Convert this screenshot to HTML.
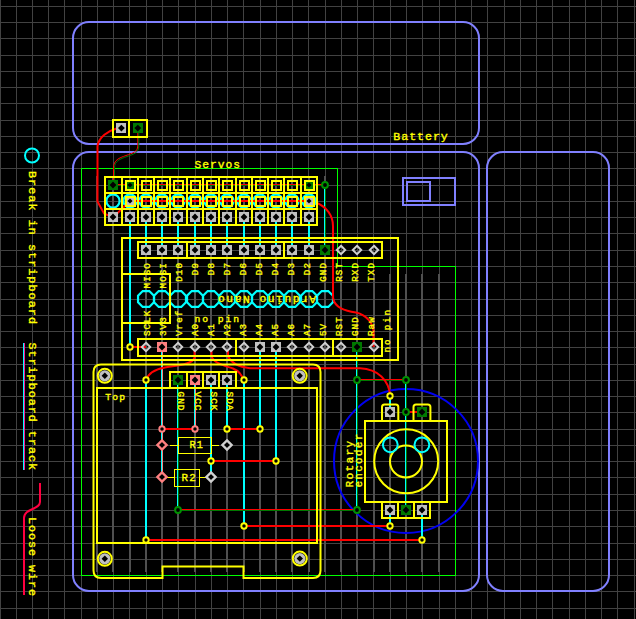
<!DOCTYPE html>
<html><head><meta charset="utf-8"><style>
html,body{margin:0;padding:0;background:#000;width:636px;height:619px;overflow:hidden}
svg{display:block}
text{font-family:"Liberation Mono",monospace;stroke:#ffff00;stroke-width:0.35px}
</style></head><body>
<svg width="636" height="619" viewBox="0 0 636 619" shape-rendering="crispEdges">
<rect width="636" height="619" fill="#000"/>
<rect x="0" y="0" width="1" height="619" fill="#424242"/>
<rect x="16" y="0" width="1" height="619" fill="#424242"/>
<rect x="32" y="0" width="1" height="619" fill="#424242"/>
<rect x="48" y="0" width="1" height="619" fill="#424242"/>
<rect x="64" y="0" width="1" height="619" fill="#424242"/>
<rect x="81" y="0" width="1" height="619" fill="#424242"/>
<rect x="97" y="0" width="1" height="619" fill="#424242"/>
<rect x="113" y="0" width="1" height="619" fill="#424242"/>
<rect x="129" y="0" width="1" height="619" fill="#424242"/>
<rect x="146" y="0" width="1" height="619" fill="#424242"/>
<rect x="162" y="0" width="1" height="619" fill="#424242"/>
<rect x="178" y="0" width="1" height="619" fill="#424242"/>
<rect x="195" y="0" width="1" height="619" fill="#424242"/>
<rect x="211" y="0" width="1" height="619" fill="#424242"/>
<rect x="227" y="0" width="1" height="619" fill="#424242"/>
<rect x="243" y="0" width="1" height="619" fill="#424242"/>
<rect x="260" y="0" width="1" height="619" fill="#424242"/>
<rect x="276" y="0" width="1" height="619" fill="#424242"/>
<rect x="292" y="0" width="1" height="619" fill="#424242"/>
<rect x="308" y="0" width="1" height="619" fill="#424242"/>
<rect x="325" y="0" width="1" height="619" fill="#424242"/>
<rect x="341" y="0" width="1" height="619" fill="#424242"/>
<rect x="357" y="0" width="1" height="619" fill="#424242"/>
<rect x="373" y="0" width="1" height="619" fill="#424242"/>
<rect x="390" y="0" width="1" height="619" fill="#424242"/>
<rect x="406" y="0" width="1" height="619" fill="#424242"/>
<rect x="422" y="0" width="1" height="619" fill="#424242"/>
<rect x="439" y="0" width="1" height="619" fill="#424242"/>
<rect x="455" y="0" width="1" height="619" fill="#424242"/>
<rect x="471" y="0" width="1" height="619" fill="#424242"/>
<rect x="487" y="0" width="1" height="619" fill="#424242"/>
<rect x="504" y="0" width="1" height="619" fill="#424242"/>
<rect x="520" y="0" width="1" height="619" fill="#424242"/>
<rect x="536" y="0" width="1" height="619" fill="#424242"/>
<rect x="552" y="0" width="1" height="619" fill="#424242"/>
<rect x="569" y="0" width="1" height="619" fill="#424242"/>
<rect x="585" y="0" width="1" height="619" fill="#424242"/>
<rect x="601" y="0" width="1" height="619" fill="#424242"/>
<rect x="617" y="0" width="1" height="619" fill="#424242"/>
<rect x="634" y="0" width="1" height="619" fill="#424242"/>
<rect x="0" y="6" width="636" height="1" fill="#424242"/>
<rect x="0" y="22" width="636" height="1" fill="#424242"/>
<rect x="0" y="38" width="636" height="1" fill="#424242"/>
<rect x="0" y="55" width="636" height="1" fill="#424242"/>
<rect x="0" y="71" width="636" height="1" fill="#424242"/>
<rect x="0" y="87" width="636" height="1" fill="#424242"/>
<rect x="0" y="103" width="636" height="1" fill="#424242"/>
<rect x="0" y="120" width="636" height="1" fill="#424242"/>
<rect x="0" y="136" width="636" height="1" fill="#424242"/>
<rect x="0" y="152" width="636" height="1" fill="#424242"/>
<rect x="0" y="168" width="636" height="1" fill="#424242"/>
<rect x="0" y="185" width="636" height="1" fill="#424242"/>
<rect x="0" y="201" width="636" height="1" fill="#424242"/>
<rect x="0" y="217" width="636" height="1" fill="#424242"/>
<rect x="0" y="233" width="636" height="1" fill="#424242"/>
<rect x="0" y="250" width="636" height="1" fill="#424242"/>
<rect x="0" y="266" width="636" height="1" fill="#424242"/>
<rect x="0" y="282" width="636" height="1" fill="#424242"/>
<rect x="0" y="299" width="636" height="1" fill="#424242"/>
<rect x="0" y="315" width="636" height="1" fill="#424242"/>
<rect x="0" y="331" width="636" height="1" fill="#424242"/>
<rect x="0" y="347" width="636" height="1" fill="#424242"/>
<rect x="0" y="364" width="636" height="1" fill="#424242"/>
<rect x="0" y="380" width="636" height="1" fill="#424242"/>
<rect x="0" y="396" width="636" height="1" fill="#424242"/>
<rect x="0" y="412" width="636" height="1" fill="#424242"/>
<rect x="0" y="429" width="636" height="1" fill="#424242"/>
<rect x="0" y="445" width="636" height="1" fill="#424242"/>
<rect x="0" y="461" width="636" height="1" fill="#424242"/>
<rect x="0" y="477" width="636" height="1" fill="#424242"/>
<rect x="0" y="494" width="636" height="1" fill="#424242"/>
<rect x="0" y="510" width="636" height="1" fill="#424242"/>
<rect x="0" y="526" width="636" height="1" fill="#424242"/>
<rect x="0" y="543" width="636" height="1" fill="#424242"/>
<rect x="0" y="559" width="636" height="1" fill="#424242"/>
<rect x="0" y="575" width="636" height="1" fill="#424242"/>
<rect x="0" y="591" width="636" height="1" fill="#424242"/>
<rect x="0" y="608" width="636" height="1" fill="#424242"/>
<rect x="96" y="176" width="2" height="396" fill="#505050"/>
<rect x="112" y="176" width="2" height="396" fill="#505050"/>
<rect x="129" y="176" width="2" height="396" fill="#505050"/>
<rect x="145" y="176" width="2" height="396" fill="#505050"/>
<rect x="161" y="176" width="2" height="396" fill="#505050"/>
<rect x="177" y="176" width="2" height="396" fill="#505050"/>
<rect x="194" y="176" width="2" height="396" fill="#505050"/>
<rect x="210" y="176" width="2" height="396" fill="#505050"/>
<rect x="226" y="176" width="2" height="396" fill="#505050"/>
<rect x="243" y="176" width="2" height="396" fill="#505050"/>
<rect x="259" y="176" width="2" height="396" fill="#505050"/>
<rect x="275" y="176" width="2" height="396" fill="#505050"/>
<rect x="291" y="176" width="2" height="396" fill="#505050"/>
<rect x="308" y="176" width="2" height="396" fill="#505050"/>
<rect x="324" y="176" width="2" height="396" fill="#505050"/>
<rect x="340" y="274" width="2" height="298" fill="#505050"/>
<rect x="356" y="274" width="2" height="298" fill="#505050"/>
<rect x="373" y="274" width="2" height="298" fill="#505050"/>
<rect x="389" y="274" width="2" height="298" fill="#505050"/>
<rect x="405" y="274" width="2" height="298" fill="#505050"/>
<rect x="421" y="274" width="2" height="298" fill="#505050"/>
<rect x="438" y="274" width="2" height="298" fill="#505050"/>
<path d="M81.5,168.5 H337.5 V266.5 H455.5 V575.5 H81.5 Z" fill="none" stroke="#00ff00" stroke-width="1"/>
<rect x="73" y="22" width="406" height="122" rx="16" fill="none" stroke="#8080ff" stroke-width="2" shape-rendering="auto"/>
<rect x="73" y="152" width="406" height="439" rx="16" fill="none" stroke="#8080ff" stroke-width="2" shape-rendering="auto"/>
<rect x="487" y="152" width="122" height="439" rx="16" fill="none" stroke="#8080ff" stroke-width="2" shape-rendering="auto"/>
<rect x="403" y="178" width="52" height="27" fill="none" stroke="#8080ff" stroke-width="2"/>
<rect x="407" y="182" width="23" height="19" fill="none" stroke="#8080ff" stroke-width="2"/>
<circle cx="32" cy="155.5" r="7" fill="none" stroke="#00ffff" stroke-width="2" shape-rendering="auto"/>
<rect x="23" y="343" width="1" height="127" fill="#00ffff"/>
<rect x="24" y="343" width="1" height="127" fill="#ff1493"/>
<path d="M40,483 V502 C40,510 24,508 24,518 V595" fill="none" stroke="#ff0040" stroke-width="2" shape-rendering="auto"/>
<text x="29" y="171" font-size="10.6" letter-spacing="0.9" textLength="154" lengthAdjust="spacingAndGlyphs" text-anchor="start" fill="#ffff00" transform="rotate(90 29 171)">Break in stripboard</text>
<text x="29" y="342.5" font-size="10.6" letter-spacing="0.9" textLength="128.5" lengthAdjust="spacingAndGlyphs" text-anchor="start" fill="#ffff00" transform="rotate(90 29 342.5)">Stripboard track</text>
<text x="29" y="517" font-size="10.6" letter-spacing="0.9" textLength="80" lengthAdjust="spacingAndGlyphs" text-anchor="start" fill="#ffff00" transform="rotate(90 29 517)">Loose wire</text>
<text x="393.3" y="139.5" font-size="10.6" letter-spacing="0.9" textLength="55.5" lengthAdjust="spacingAndGlyphs" text-anchor="start" fill="#ffff00">Battery</text>
<text x="194.5" y="168" font-size="10.6" letter-spacing="0.9" textLength="46.5" lengthAdjust="spacingAndGlyphs" text-anchor="start" fill="#ffff00">Servos</text>
<circle cx="406" cy="461" r="72" fill="none" stroke="#0000f0" stroke-width="2" shape-rendering="auto"/>
<circle cx="113" cy="201" r="6.6" fill="none" stroke="#00ffff" stroke-width="2.2" shape-rendering="auto"/>
<circle cx="130" cy="201" r="6.6" fill="none" stroke="#00ffff" stroke-width="2.2" shape-rendering="auto"/>
<circle cx="146" cy="201" r="6.6" fill="none" stroke="#00ffff" stroke-width="2.2" shape-rendering="auto"/>
<circle cx="162" cy="201" r="6.6" fill="none" stroke="#00ffff" stroke-width="2.2" shape-rendering="auto"/>
<circle cx="178" cy="201" r="6.6" fill="none" stroke="#00ffff" stroke-width="2.2" shape-rendering="auto"/>
<circle cx="195" cy="201" r="6.6" fill="none" stroke="#00ffff" stroke-width="2.2" shape-rendering="auto"/>
<circle cx="211" cy="201" r="6.6" fill="none" stroke="#00ffff" stroke-width="2.2" shape-rendering="auto"/>
<circle cx="227" cy="201" r="6.6" fill="none" stroke="#00ffff" stroke-width="2.2" shape-rendering="auto"/>
<circle cx="244" cy="201" r="6.6" fill="none" stroke="#00ffff" stroke-width="2.2" shape-rendering="auto"/>
<circle cx="260" cy="201" r="6.6" fill="none" stroke="#00ffff" stroke-width="2.2" shape-rendering="auto"/>
<circle cx="276" cy="201" r="6.6" fill="none" stroke="#00ffff" stroke-width="2.2" shape-rendering="auto"/>
<circle cx="292" cy="201" r="6.6" fill="none" stroke="#00ffff" stroke-width="2.2" shape-rendering="auto"/>
<circle cx="309" cy="201" r="6.6" fill="none" stroke="#00ffff" stroke-width="2.2" shape-rendering="auto"/>
<polygon points="153.95,302.29 149.29,306.95 142.71,306.95 138.05,302.29 138.05,295.71 142.71,291.05 149.29,291.05 153.95,295.71" fill="none" stroke="#00ffff" stroke-width="2.2" shape-rendering="auto"/>
<polygon points="169.95,302.29 165.29,306.95 158.71,306.95 154.05,302.29 154.05,295.71 158.71,291.05 165.29,291.05 169.95,295.71" fill="none" stroke="#00ffff" stroke-width="2.2" shape-rendering="auto"/>
<polygon points="185.95,302.29 181.29,306.95 174.71,306.95 170.05,302.29 170.05,295.71 174.71,291.05 181.29,291.05 185.95,295.71" fill="none" stroke="#00ffff" stroke-width="2.2" shape-rendering="auto"/>
<polygon points="202.95,302.29 198.29,306.95 191.71,306.95 187.05,302.29 187.05,295.71 191.71,291.05 198.29,291.05 202.95,295.71" fill="none" stroke="#00ffff" stroke-width="2.2" shape-rendering="auto"/>
<polygon points="218.95,302.29 214.29,306.95 207.71,306.95 203.05,302.29 203.05,295.71 207.71,291.05 214.29,291.05 218.95,295.71" fill="none" stroke="#00ffff" stroke-width="2.2" shape-rendering="auto"/>
<polygon points="234.95,302.29 230.29,306.95 223.71,306.95 219.05,302.29 219.05,295.71 223.71,291.05 230.29,291.05 234.95,295.71" fill="none" stroke="#00ffff" stroke-width="2.2" shape-rendering="auto"/>
<polygon points="251.95,302.29 247.29,306.95 240.71,306.95 236.05,302.29 236.05,295.71 240.71,291.05 247.29,291.05 251.95,295.71" fill="none" stroke="#00ffff" stroke-width="2.2" shape-rendering="auto"/>
<polygon points="267.95,302.29 263.29,306.95 256.71,306.95 252.05,302.29 252.05,295.71 256.71,291.05 263.29,291.05 267.95,295.71" fill="none" stroke="#00ffff" stroke-width="2.2" shape-rendering="auto"/>
<polygon points="283.95,302.29 279.29,306.95 272.71,306.95 268.05,302.29 268.05,295.71 272.71,291.05 279.29,291.05 283.95,295.71" fill="none" stroke="#00ffff" stroke-width="2.2" shape-rendering="auto"/>
<polygon points="299.95,302.29 295.29,306.95 288.71,306.95 284.05,302.29 284.05,295.71 288.71,291.05 295.29,291.05 299.95,295.71" fill="none" stroke="#00ffff" stroke-width="2.2" shape-rendering="auto"/>
<polygon points="316.95,302.29 312.29,306.95 305.71,306.95 301.05,302.29 301.05,295.71 305.71,291.05 312.29,291.05 316.95,295.71" fill="none" stroke="#00ffff" stroke-width="2.2" shape-rendering="auto"/>
<polygon points="332.95,302.29 328.29,306.95 321.71,306.95 317.05,302.29 317.05,295.71 321.71,291.05 328.29,291.05 332.95,295.71" fill="none" stroke="#00ffff" stroke-width="2.2" shape-rendering="auto"/>
<rect x="129" y="217" width="2" height="130" fill="#00ffff"/>
<rect x="145" y="217" width="2" height="33" fill="#00ffff"/>
<rect x="161" y="217" width="2" height="33" fill="#00ffff"/>
<rect x="177" y="217" width="2" height="33" fill="#00ffff"/>
<rect x="194" y="217" width="2" height="33" fill="#00ffff"/>
<rect x="210" y="217" width="2" height="33" fill="#00ffff"/>
<rect x="226" y="217" width="2" height="33" fill="#00ffff"/>
<rect x="243" y="217" width="2" height="33" fill="#00ffff"/>
<rect x="259" y="217" width="2" height="33" fill="#00ffff"/>
<rect x="275" y="217" width="2" height="33" fill="#00ffff"/>
<rect x="291" y="217" width="2" height="33" fill="#00ffff"/>
<rect x="308" y="217" width="2" height="33" fill="#00ffff"/>
<rect x="324" y="185" width="1" height="65" fill="#00ffff"/>
<rect x="325" y="185" width="1" height="65" fill="#007800"/>
<rect x="145" y="380" width="2" height="160" fill="#00ffff"/>
<rect x="161" y="347" width="1" height="130" fill="#00ffff"/>
<rect x="162" y="347" width="1" height="130" fill="#ff8080"/>
<rect x="177" y="380" width="1" height="130" fill="#00ffff"/>
<rect x="178" y="380" width="1" height="130" fill="#007800"/>
<rect x="194" y="380" width="1" height="49" fill="#00ffff"/>
<rect x="195" y="380" width="1" height="49" fill="#ff8080"/>
<rect x="210" y="380" width="2" height="97" fill="#00ffff"/>
<rect x="226" y="380" width="2" height="49" fill="#00ffff"/>
<rect x="243" y="380" width="2" height="146" fill="#00ffff"/>
<rect x="259" y="347" width="2" height="82" fill="#00ffff"/>
<rect x="275" y="347" width="2" height="114" fill="#00ffff"/>
<rect x="356" y="347" width="1" height="163" fill="#00ffff"/>
<rect x="357" y="347" width="1" height="163" fill="#007800"/>
<rect x="405" y="380" width="1" height="130" fill="#00ffff"/>
<rect x="406" y="380" width="1" height="130" fill="#007800"/>
<rect x="389" y="396" width="2" height="16" fill="#00ffff"/>
<rect x="389" y="510" width="2" height="16" fill="#00ffff"/>
<rect x="421" y="510" width="2" height="30" fill="#00ffff"/>
<rect x="113" y="184" width="212" height="1" fill="#ff0000"/>
<rect x="113" y="185" width="212" height="1" fill="#007800"/>
<rect x="130" y="200" width="179" height="2" fill="#ff0000"/>
<rect x="130" y="346" width="16" height="2" fill="#ff0000"/>
<rect x="162" y="428" width="33" height="2" fill="#ff0000"/>
<rect x="227" y="428" width="33" height="2" fill="#ff0000"/>
<rect x="211" y="460" width="65" height="2" fill="#ff0000"/>
<rect x="178" y="509" width="179" height="1" fill="#ff0000"/>
<rect x="178" y="510" width="179" height="1" fill="#007800"/>
<rect x="244" y="525" width="146" height="2" fill="#ff0000"/>
<rect x="146" y="539" width="276" height="2" fill="#ff0000"/>
<rect x="357" y="379" width="49" height="1" fill="#ff0000"/>
<rect x="357" y="380" width="49" height="1" fill="#007800"/>
<rect x="406" y="411" width="16" height="2" fill="#ff0000"/>
<path d="M116.5,128.5 C108,131 99,137 97.5,146 V201.5 L104,213.5 L113,217.5" fill="none" stroke="#ff0000" stroke-width="2" shape-rendering="auto"/>
<path d="M113,217.5 L129.5,201.5" fill="none" stroke="#ff0000" stroke-width="2" shape-rendering="auto"/>
<path d="M316,202.5 C327,207 333,216 333,226 V298 C335,308 345,311 356,312.5 C367,315 373.5,324 373.5,332 V347" fill="none" stroke="#ff0000" stroke-width="2" shape-rendering="auto"/>
<path d="M137.8,132 V146 C137.5,152 133,153 126,155.5 C119,158 113.5,160 113.5,168 V185" fill="none" stroke="#ff0000" stroke-width="1" shape-rendering="auto"/>
<path d="M138.8,132 V146 C138.5,153 134,154 127,156.5 C120,159 114.5,161 114.5,168 V185" fill="none" stroke="#007800" stroke-width="1" shape-rendering="auto"/>
<path d="M194.5,351 V358 C192,364 180,365 165,367.5 C154,369.5 148,374 146.2,380" fill="none" stroke="#ff0000" stroke-width="2" shape-rendering="auto"/>
<path d="M211.5,351 V356 C214,364 226,366 233,368.5 C239,371 242,375 243.2,380" fill="none" stroke="#ff0000" stroke-width="2" shape-rendering="auto"/>
<path d="M228,351 V356 C231,363 240,367 250,368.2 H360 C378,369 389,380 390.2,396" fill="none" stroke="#ff0000" stroke-width="2" shape-rendering="auto"/>
<rect x="112.6" y="120.2" width="34" height="16.3" fill="none" stroke="#ffff00" stroke-width="2"/>
<line x1="128.7" y1="120.2" x2="128.7" y2="136.5" stroke="#ffff00" stroke-width="2"/>
<rect x="105" y="176.5" width="212" height="48.5" fill="none" stroke="#ffff00" stroke-width="2"/>
<line x1="121.5" y1="176.5" x2="121.5" y2="225" stroke="#ffff00" stroke-width="2"/>
<line x1="138" y1="176.5" x2="138" y2="225" stroke="#ffff00" stroke-width="2"/>
<line x1="154" y1="176.5" x2="154" y2="225" stroke="#ffff00" stroke-width="2"/>
<line x1="170" y1="176.5" x2="170" y2="225" stroke="#ffff00" stroke-width="2"/>
<line x1="186.5" y1="176.5" x2="186.5" y2="225" stroke="#ffff00" stroke-width="2"/>
<line x1="203" y1="176.5" x2="203" y2="225" stroke="#ffff00" stroke-width="2"/>
<line x1="219" y1="176.5" x2="219" y2="225" stroke="#ffff00" stroke-width="2"/>
<line x1="235.5" y1="176.5" x2="235.5" y2="225" stroke="#ffff00" stroke-width="2"/>
<line x1="252" y1="176.5" x2="252" y2="225" stroke="#ffff00" stroke-width="2"/>
<line x1="268" y1="176.5" x2="268" y2="225" stroke="#ffff00" stroke-width="2"/>
<line x1="284" y1="176.5" x2="284" y2="225" stroke="#ffff00" stroke-width="2"/>
<line x1="300.5" y1="176.5" x2="300.5" y2="225" stroke="#ffff00" stroke-width="2"/>
<line x1="317" y1="176.5" x2="317" y2="225" stroke="#ffff00" stroke-width="2"/>
<line x1="105" y1="193" x2="317" y2="193" stroke="#ffff00" stroke-width="2"/>
<line x1="105" y1="209" x2="317" y2="209" stroke="#ffff00" stroke-width="2"/>
<rect x="125.5" y="180.5" width="9" height="9" fill="none" stroke="#ffff00" stroke-width="2"/>
<rect x="125.5" y="196.5" width="9" height="9" fill="none" stroke="#ffff00" stroke-width="2"/>
<rect x="141.5" y="180.5" width="9" height="9" fill="none" stroke="#ffff00" stroke-width="2"/>
<rect x="141.5" y="196.5" width="9" height="9" fill="none" stroke="#ffff00" stroke-width="2"/>
<rect x="157.5" y="180.5" width="9" height="9" fill="none" stroke="#ffff00" stroke-width="2"/>
<rect x="157.5" y="196.5" width="9" height="9" fill="none" stroke="#ffff00" stroke-width="2"/>
<rect x="173.5" y="180.5" width="9" height="9" fill="none" stroke="#ffff00" stroke-width="2"/>
<rect x="173.5" y="196.5" width="9" height="9" fill="none" stroke="#ffff00" stroke-width="2"/>
<rect x="190.5" y="180.5" width="9" height="9" fill="none" stroke="#ffff00" stroke-width="2"/>
<rect x="190.5" y="196.5" width="9" height="9" fill="none" stroke="#ffff00" stroke-width="2"/>
<rect x="206.5" y="180.5" width="9" height="9" fill="none" stroke="#ffff00" stroke-width="2"/>
<rect x="206.5" y="196.5" width="9" height="9" fill="none" stroke="#ffff00" stroke-width="2"/>
<rect x="222.5" y="180.5" width="9" height="9" fill="none" stroke="#ffff00" stroke-width="2"/>
<rect x="222.5" y="196.5" width="9" height="9" fill="none" stroke="#ffff00" stroke-width="2"/>
<rect x="239.5" y="180.5" width="9" height="9" fill="none" stroke="#ffff00" stroke-width="2"/>
<rect x="239.5" y="196.5" width="9" height="9" fill="none" stroke="#ffff00" stroke-width="2"/>
<rect x="255.5" y="180.5" width="9" height="9" fill="none" stroke="#ffff00" stroke-width="2"/>
<rect x="255.5" y="196.5" width="9" height="9" fill="none" stroke="#ffff00" stroke-width="2"/>
<rect x="271.5" y="180.5" width="9" height="9" fill="none" stroke="#ffff00" stroke-width="2"/>
<rect x="271.5" y="196.5" width="9" height="9" fill="none" stroke="#ffff00" stroke-width="2"/>
<rect x="287.5" y="180.5" width="9" height="9" fill="none" stroke="#ffff00" stroke-width="2"/>
<rect x="287.5" y="196.5" width="9" height="9" fill="none" stroke="#ffff00" stroke-width="2"/>
<rect x="304.5" y="180.5" width="9" height="9" fill="none" stroke="#ffff00" stroke-width="2"/>
<rect x="304.5" y="196.5" width="9" height="9" fill="none" stroke="#ffff00" stroke-width="2"/>
<rect x="121.5" y="237.5" width="276.5" height="122.1" fill="none" stroke="#ffff00" stroke-width="2"/>
<rect x="138" y="241.5" width="244" height="16.5" fill="none" stroke="#ffff00" stroke-width="2"/>
<line x1="186.5" y1="241.5" x2="186.5" y2="258" stroke="#ffff00" stroke-width="2"/>
<line x1="284" y1="241.5" x2="284" y2="258" stroke="#ffff00" stroke-width="2"/>
<rect x="138" y="339" width="244" height="16.5" fill="none" stroke="#ffff00" stroke-width="2"/>
<line x1="235.5" y1="339" x2="235.5" y2="355.5" stroke="#ffff00" stroke-width="2"/>
<line x1="333" y1="339" x2="333" y2="355.5" stroke="#ffff00" stroke-width="2"/>
<rect x="121.5" y="274" width="48.5" height="49" fill="none" stroke="#ffff00" stroke-width="2"/>
<path d="M93.5,372 Q93.5,364.5 101,364.5 H313 Q320.5,364.5 320.5,372 V570.5 Q320.5,578 313,578 H243.5 V566.5 H162.5 V578 H101 Q93.5,578 93.5,570.5 Z" fill="none" stroke="#ffff00" stroke-width="2" shape-rendering="auto"/>
<rect x="97" y="388" width="220" height="155" fill="none" stroke="#ffff00" stroke-width="2"/>
<rect x="170" y="372" width="65.5" height="16" fill="none" stroke="#ffff00" stroke-width="2"/>
<line x1="186.5" y1="372" x2="186.5" y2="388" stroke="#ffff00" stroke-width="2"/>
<line x1="203" y1="372" x2="203" y2="388" stroke="#ffff00" stroke-width="2"/>
<line x1="219" y1="372" x2="219" y2="388" stroke="#ffff00" stroke-width="2"/>
<circle cx="104.8" cy="375.8" r="7" fill="#000" stroke="#ffff00" stroke-width="2" shape-rendering="auto"/>
<circle cx="104.8" cy="375.8" r="5.6" fill="#c0c0c0" shape-rendering="auto"/>
<path d="M104.8,372.6 L108,375.8 L104.8,379 L101.6,375.8 Z" fill="#000" shape-rendering="auto"/>
<circle cx="299.7" cy="375.8" r="7" fill="#000" stroke="#ffff00" stroke-width="2" shape-rendering="auto"/>
<circle cx="299.7" cy="375.8" r="5.6" fill="#c0c0c0" shape-rendering="auto"/>
<path d="M299.7,372.6 L302.9,375.8 L299.7,379 L296.5,375.8 Z" fill="#000" shape-rendering="auto"/>
<circle cx="104.8" cy="558.8" r="7" fill="#000" stroke="#ffff00" stroke-width="2" shape-rendering="auto"/>
<circle cx="104.8" cy="558.8" r="5.6" fill="#c0c0c0" shape-rendering="auto"/>
<path d="M104.8,555.6 L108,558.8 L104.8,562 L101.6,558.8 Z" fill="#000" shape-rendering="auto"/>
<circle cx="299.8" cy="558.6" r="7" fill="#000" stroke="#ffff00" stroke-width="2" shape-rendering="auto"/>
<circle cx="299.8" cy="558.6" r="5.6" fill="#c0c0c0" shape-rendering="auto"/>
<path d="M299.8,555.4 L303,558.6 L299.8,561.8 L296.6,558.6 Z" fill="#000" shape-rendering="auto"/>
<rect x="178.5" y="437.5" width="33" height="16" fill="none" stroke="#ffff00" stroke-width="1"/>
<line x1="170" y1="445.5" x2="178.5" y2="445.5" stroke="#ffff00" stroke-width="1"/>
<line x1="211.5" y1="445.5" x2="219" y2="445.5" stroke="#ffff00" stroke-width="1"/>
<rect x="174.5" y="469.5" width="25" height="17" fill="none" stroke="#ffff00" stroke-width="1"/>
<line x1="166" y1="477.5" x2="174.5" y2="477.5" stroke="#ffff00" stroke-width="1"/>
<line x1="199.5" y1="477.5" x2="206" y2="477.5" stroke="#ffff00" stroke-width="1"/>
<rect x="365" y="421" width="82" height="80.8" fill="none" stroke="#ffff00" stroke-width="2"/>
<circle cx="406.2" cy="461.3" r="32" fill="none" stroke="#ffff00" stroke-width="2" shape-rendering="auto"/>
<circle cx="406" cy="461.5" r="16" fill="none" stroke="#ffff00" stroke-width="2" shape-rendering="auto"/>
<circle cx="390.3" cy="444.8" r="7.4" fill="none" stroke="#00ffff" stroke-width="2" shape-rendering="auto"/>
<circle cx="421.9" cy="444.8" r="7.4" fill="none" stroke="#00ffff" stroke-width="2" shape-rendering="auto"/>
<path d="M382,421 V407 Q382,404.5 384.5,404.5 H395.8 Q398.3,404.5 398.3,407 V421" fill="none" stroke="#ffff00" stroke-width="2" shape-rendering="auto"/>
<path d="M413.5,421 V407 Q413.5,404.5 416,404.5 H427.9 Q430.4,404.5 430.4,407 V421" fill="none" stroke="#ffff00" stroke-width="2" shape-rendering="auto"/>
<rect x="381.6" y="501.8" width="48.8" height="16.1" fill="none" stroke="#ffff00" stroke-width="2"/>
<line x1="398" y1="501.8" x2="398" y2="517.9" stroke="#ffff00" stroke-width="2"/>
<line x1="414.4" y1="501.8" x2="414.4" y2="517.9" stroke="#ffff00" stroke-width="2"/>
<rect x="116.4" y="123.1" width="10" height="10" fill="#c0c0c0"/>
<path d="M121.4,124.7 L124.8,128.1 L121.4,131.5 L118,128.1 Z" fill="#000" shape-rendering="auto"/>
<rect x="132.8" y="123.1" width="10" height="10" fill="#007800"/>
<path d="M137.8,124.7 L141.2,128.1 L137.8,131.5 L134.4,128.1 Z" fill="#000" shape-rendering="auto"/>
<rect x="108" y="180" width="10" height="10" fill="#007800"/>
<path d="M113,181.6 L116.4,185 L113,188.4 L109.6,185 Z" fill="#000" shape-rendering="auto"/>
<rect x="126.5" y="181.5" width="7" height="7" fill="#007800"/>
<path d="M130,182.4 L132.6,185 L130,187.6 L127.4,185 Z" fill="#000" shape-rendering="auto"/>
<rect x="126.5" y="197.5" width="7" height="7" fill="#c0c0c0"/>
<path d="M130,198.4 L132.6,201 L130,203.6 L127.4,201 Z" fill="#000" shape-rendering="auto"/>
<rect x="305.5" y="181.5" width="7" height="7" fill="#007800"/>
<path d="M309,182.4 L311.6,185 L309,187.6 L306.4,185 Z" fill="#000" shape-rendering="auto"/>
<rect x="305.5" y="197.5" width="7" height="7" fill="#c0c0c0"/>
<path d="M309,198.4 L311.6,201 L309,203.6 L306.4,201 Z" fill="#000" shape-rendering="auto"/>
<rect x="108" y="212" width="10" height="10" fill="#c0c0c0"/>
<path d="M113,213.6 L116.4,217 L113,220.4 L109.6,217 Z" fill="#000" shape-rendering="auto"/>
<rect x="125" y="212" width="10" height="10" fill="#c0c0c0"/>
<path d="M130,213.6 L133.4,217 L130,220.4 L126.6,217 Z" fill="#000" shape-rendering="auto"/>
<rect x="141" y="212" width="10" height="10" fill="#c0c0c0"/>
<path d="M146,213.6 L149.4,217 L146,220.4 L142.6,217 Z" fill="#000" shape-rendering="auto"/>
<rect x="157" y="212" width="10" height="10" fill="#c0c0c0"/>
<path d="M162,213.6 L165.4,217 L162,220.4 L158.6,217 Z" fill="#000" shape-rendering="auto"/>
<rect x="173" y="212" width="10" height="10" fill="#c0c0c0"/>
<path d="M178,213.6 L181.4,217 L178,220.4 L174.6,217 Z" fill="#000" shape-rendering="auto"/>
<rect x="190" y="212" width="10" height="10" fill="#c0c0c0"/>
<path d="M195,213.6 L198.4,217 L195,220.4 L191.6,217 Z" fill="#000" shape-rendering="auto"/>
<rect x="206" y="212" width="10" height="10" fill="#c0c0c0"/>
<path d="M211,213.6 L214.4,217 L211,220.4 L207.6,217 Z" fill="#000" shape-rendering="auto"/>
<rect x="222" y="212" width="10" height="10" fill="#c0c0c0"/>
<path d="M227,213.6 L230.4,217 L227,220.4 L223.6,217 Z" fill="#000" shape-rendering="auto"/>
<rect x="239" y="212" width="10" height="10" fill="#c0c0c0"/>
<path d="M244,213.6 L247.4,217 L244,220.4 L240.6,217 Z" fill="#000" shape-rendering="auto"/>
<rect x="255" y="212" width="10" height="10" fill="#c0c0c0"/>
<path d="M260,213.6 L263.4,217 L260,220.4 L256.6,217 Z" fill="#000" shape-rendering="auto"/>
<rect x="271" y="212" width="10" height="10" fill="#c0c0c0"/>
<path d="M276,213.6 L279.4,217 L276,220.4 L272.6,217 Z" fill="#000" shape-rendering="auto"/>
<rect x="287" y="212" width="10" height="10" fill="#c0c0c0"/>
<path d="M292,213.6 L295.4,217 L292,220.4 L288.6,217 Z" fill="#000" shape-rendering="auto"/>
<rect x="304" y="212" width="10" height="10" fill="#c0c0c0"/>
<path d="M309,213.6 L312.4,217 L309,220.4 L305.6,217 Z" fill="#000" shape-rendering="auto"/>
<circle cx="325" cy="185" r="2.9" fill="#000" stroke="#009000" stroke-width="2" shape-rendering="auto"/>
<rect x="141" y="245" width="10" height="10" fill="#c0c0c0"/>
<path d="M146,246.6 L149.4,250 L146,253.4 L142.6,250 Z" fill="#000" shape-rendering="auto"/>
<rect x="157" y="245" width="10" height="10" fill="#c0c0c0"/>
<path d="M162,246.6 L165.4,250 L162,253.4 L158.6,250 Z" fill="#000" shape-rendering="auto"/>
<rect x="173" y="245" width="10" height="10" fill="#c0c0c0"/>
<path d="M178,246.6 L181.4,250 L178,253.4 L174.6,250 Z" fill="#000" shape-rendering="auto"/>
<rect x="190" y="245" width="10" height="10" fill="#c0c0c0"/>
<path d="M195,246.6 L198.4,250 L195,253.4 L191.6,250 Z" fill="#000" shape-rendering="auto"/>
<rect x="206" y="245" width="10" height="10" fill="#c0c0c0"/>
<path d="M211,246.6 L214.4,250 L211,253.4 L207.6,250 Z" fill="#000" shape-rendering="auto"/>
<rect x="222" y="245" width="10" height="10" fill="#c0c0c0"/>
<path d="M227,246.6 L230.4,250 L227,253.4 L223.6,250 Z" fill="#000" shape-rendering="auto"/>
<rect x="239" y="245" width="10" height="10" fill="#c0c0c0"/>
<path d="M244,246.6 L247.4,250 L244,253.4 L240.6,250 Z" fill="#000" shape-rendering="auto"/>
<rect x="255" y="245" width="10" height="10" fill="#c0c0c0"/>
<path d="M260,246.6 L263.4,250 L260,253.4 L256.6,250 Z" fill="#000" shape-rendering="auto"/>
<rect x="271" y="245" width="10" height="10" fill="#c0c0c0"/>
<path d="M276,246.6 L279.4,250 L276,253.4 L272.6,250 Z" fill="#000" shape-rendering="auto"/>
<rect x="287" y="245" width="10" height="10" fill="#c0c0c0"/>
<path d="M292,246.6 L295.4,250 L292,253.4 L288.6,250 Z" fill="#000" shape-rendering="auto"/>
<rect x="304" y="245" width="10" height="10" fill="#c0c0c0"/>
<path d="M309,246.6 L312.4,250 L309,253.4 L305.6,250 Z" fill="#000" shape-rendering="auto"/>
<rect x="320" y="245" width="10" height="10" fill="#007800"/>
<path d="M325,246.6 L328.4,250 L325,253.4 L321.6,250 Z" fill="#000" shape-rendering="auto"/>
<path d="M341,245.8 L345.2,250 L341,254.2 L336.8,250 Z" fill="none" stroke="#d0d0d0" stroke-width="2" shape-rendering="auto"/>
<path d="M357,245.8 L361.2,250 L357,254.2 L352.8,250 Z" fill="none" stroke="#d0d0d0" stroke-width="2" shape-rendering="auto"/>
<path d="M374,245.8 L378.2,250 L374,254.2 L369.8,250 Z" fill="none" stroke="#d0d0d0" stroke-width="2" shape-rendering="auto"/>
<path d="M146,342.8 L150.2,347 L146,351.2 L141.8,347 Z" fill="none" stroke="#d0d0d0" stroke-width="2" shape-rendering="auto"/>
<rect x="157" y="342" width="10" height="10" fill="#ff8080"/>
<path d="M162,343.6 L165.4,347 L162,350.4 L158.6,347 Z" fill="#000" shape-rendering="auto"/>
<path d="M178,342.8 L182.2,347 L178,351.2 L173.8,347 Z" fill="none" stroke="#d0d0d0" stroke-width="2" shape-rendering="auto"/>
<path d="M195,342.8 L199.2,347 L195,351.2 L190.8,347 Z" fill="none" stroke="#d0d0d0" stroke-width="2" shape-rendering="auto"/>
<path d="M211,342.8 L215.2,347 L211,351.2 L206.8,347 Z" fill="none" stroke="#d0d0d0" stroke-width="2" shape-rendering="auto"/>
<path d="M227,342.8 L231.2,347 L227,351.2 L222.8,347 Z" fill="none" stroke="#d0d0d0" stroke-width="2" shape-rendering="auto"/>
<path d="M244,342.8 L248.2,347 L244,351.2 L239.8,347 Z" fill="none" stroke="#d0d0d0" stroke-width="2" shape-rendering="auto"/>
<rect x="255" y="342" width="10" height="10" fill="#c0c0c0"/>
<path d="M260,343.6 L263.4,347 L260,350.4 L256.6,347 Z" fill="#000" shape-rendering="auto"/>
<rect x="271" y="342" width="10" height="10" fill="#c0c0c0"/>
<path d="M276,343.6 L279.4,347 L276,350.4 L272.6,347 Z" fill="#000" shape-rendering="auto"/>
<path d="M292,342.8 L296.2,347 L292,351.2 L287.8,347 Z" fill="none" stroke="#d0d0d0" stroke-width="2" shape-rendering="auto"/>
<path d="M309,342.8 L313.2,347 L309,351.2 L304.8,347 Z" fill="none" stroke="#d0d0d0" stroke-width="2" shape-rendering="auto"/>
<path d="M325,342.8 L329.2,347 L325,351.2 L320.8,347 Z" fill="none" stroke="#d0d0d0" stroke-width="2" shape-rendering="auto"/>
<path d="M341,342.8 L345.2,347 L341,351.2 L336.8,347 Z" fill="none" stroke="#d0d0d0" stroke-width="2" shape-rendering="auto"/>
<rect x="352" y="342" width="10" height="10" fill="#007800"/>
<path d="M357,343.6 L360.4,347 L357,350.4 L353.6,347 Z" fill="#000" shape-rendering="auto"/>
<path d="M374,342.8 L378.2,347 L374,351.2 L369.8,347 Z" fill="none" stroke="#d0d0d0" stroke-width="2" shape-rendering="auto"/>
<circle cx="130" cy="347" r="2.7" fill="#000" stroke="#ffff00" stroke-width="1.9" shape-rendering="auto"/>
<rect x="173" y="375" width="10" height="10" fill="#007800"/>
<path d="M178,376.6 L181.4,380 L178,383.4 L174.6,380 Z" fill="#000" shape-rendering="auto"/>
<rect x="190" y="375" width="10" height="10" fill="#ff8080"/>
<path d="M195,376.6 L198.4,380 L195,383.4 L191.6,380 Z" fill="#000" shape-rendering="auto"/>
<rect x="206" y="375" width="10" height="10" fill="#c0c0c0"/>
<path d="M211,376.6 L214.4,380 L211,383.4 L207.6,380 Z" fill="#000" shape-rendering="auto"/>
<rect x="222" y="375" width="10" height="10" fill="#c0c0c0"/>
<path d="M227,376.6 L230.4,380 L227,383.4 L223.6,380 Z" fill="#000" shape-rendering="auto"/>
<circle cx="146" cy="380" r="2.7" fill="#000" stroke="#ffff00" stroke-width="1.9" shape-rendering="auto"/>
<circle cx="244" cy="380" r="2.7" fill="#000" stroke="#ffff00" stroke-width="1.9" shape-rendering="auto"/>
<circle cx="162" cy="429" r="2.7" fill="#000" stroke="#ff8080" stroke-width="1.9" shape-rendering="auto"/>
<circle cx="195" cy="429" r="2.7" fill="#000" stroke="#ff8080" stroke-width="1.9" shape-rendering="auto"/>
<path d="M162,440.4 L166.6,445 L162,449.6 L157.4,445 Z" fill="#000" stroke="#ff8080" stroke-width="2.4" shape-rendering="auto"/>
<path d="M227,440.4 L231.6,445 L227,449.6 L222.4,445 Z" fill="#000" stroke="#d0d0d0" stroke-width="2.4" shape-rendering="auto"/>
<circle cx="227" cy="429" r="2.7" fill="#000" stroke="#ffff00" stroke-width="1.9" shape-rendering="auto"/>
<circle cx="260" cy="429" r="2.7" fill="#000" stroke="#ffff00" stroke-width="1.9" shape-rendering="auto"/>
<circle cx="211" cy="461" r="2.7" fill="#000" stroke="#ffff00" stroke-width="1.9" shape-rendering="auto"/>
<circle cx="276" cy="461" r="2.7" fill="#000" stroke="#ffff00" stroke-width="1.9" shape-rendering="auto"/>
<path d="M162,472.4 L166.6,477 L162,481.6 L157.4,477 Z" fill="#000" stroke="#ff8080" stroke-width="2.4" shape-rendering="auto"/>
<path d="M211,472.4 L215.6,477 L211,481.6 L206.4,477 Z" fill="#000" stroke="#d0d0d0" stroke-width="2.4" shape-rendering="auto"/>
<circle cx="178" cy="510" r="2.9" fill="#000" stroke="#009000" stroke-width="2" shape-rendering="auto"/>
<circle cx="357" cy="510" r="2.9" fill="#000" stroke="#009000" stroke-width="2" shape-rendering="auto"/>
<circle cx="357" cy="380" r="2.9" fill="#000" stroke="#009000" stroke-width="2" shape-rendering="auto"/>
<circle cx="406" cy="380" r="2.9" fill="#000" stroke="#009000" stroke-width="2" shape-rendering="auto"/>
<circle cx="406" cy="412" r="2.9" fill="#000" stroke="#009000" stroke-width="2" shape-rendering="auto"/>
<circle cx="244" cy="526" r="2.7" fill="#000" stroke="#ffff00" stroke-width="1.9" shape-rendering="auto"/>
<circle cx="390" cy="526" r="2.7" fill="#000" stroke="#ffff00" stroke-width="1.9" shape-rendering="auto"/>
<circle cx="146" cy="540" r="2.7" fill="#000" stroke="#ffff00" stroke-width="1.9" shape-rendering="auto"/>
<circle cx="422" cy="540" r="2.7" fill="#000" stroke="#ffff00" stroke-width="1.9" shape-rendering="auto"/>
<circle cx="390" cy="396" r="2.7" fill="#000" stroke="#ffff00" stroke-width="1.9" shape-rendering="auto"/>
<rect x="385" y="407" width="10" height="10" fill="#c0c0c0"/>
<path d="M390,408.6 L393.4,412 L390,415.4 L386.6,412 Z" fill="#000" shape-rendering="auto"/>
<rect x="417" y="407" width="10" height="10" fill="#007800"/>
<path d="M422,408.6 L425.4,412 L422,415.4 L418.6,412 Z" fill="#000" shape-rendering="auto"/>
<rect x="385" y="505" width="10" height="10" fill="#c0c0c0"/>
<path d="M390,506.6 L393.4,510 L390,513.4 L386.6,510 Z" fill="#000" shape-rendering="auto"/>
<rect x="401" y="505" width="10" height="10" fill="#007800"/>
<path d="M406,506.6 L409.4,510 L406,513.4 L402.6,510 Z" fill="#000" shape-rendering="auto"/>
<rect x="417" y="505" width="10" height="10" fill="#c0c0c0"/>
<path d="M422,506.6 L425.4,510 L422,513.4 L418.6,510 Z" fill="#000" shape-rendering="auto"/>
<text x="149.8" y="262" font-size="9.2" letter-spacing="1.1" text-anchor="end" fill="#ffff00" transform="rotate(-90 149.8 262)">MISO</text>
<text x="165.8" y="262" font-size="9.2" letter-spacing="1.1" text-anchor="end" fill="#ffff00" transform="rotate(-90 165.8 262)">MOSI</text>
<text x="181.8" y="262" font-size="9.2" letter-spacing="1.1" text-anchor="end" fill="#ffff00" transform="rotate(-90 181.8 262)">D10</text>
<text x="197.8" y="262" font-size="9.2" letter-spacing="1.1" text-anchor="end" fill="#ffff00" transform="rotate(-90 197.8 262)">D9</text>
<text x="213.8" y="262" font-size="9.2" letter-spacing="1.1" text-anchor="end" fill="#ffff00" transform="rotate(-90 213.8 262)">D8</text>
<text x="229.8" y="262" font-size="9.2" letter-spacing="1.1" text-anchor="end" fill="#ffff00" transform="rotate(-90 229.8 262)">D7</text>
<text x="245.8" y="262" font-size="9.2" letter-spacing="1.1" text-anchor="end" fill="#ffff00" transform="rotate(-90 245.8 262)">D6</text>
<text x="261.8" y="262" font-size="9.2" letter-spacing="1.1" text-anchor="end" fill="#ffff00" transform="rotate(-90 261.8 262)">D5</text>
<text x="277.8" y="262" font-size="9.2" letter-spacing="1.1" text-anchor="end" fill="#ffff00" transform="rotate(-90 277.8 262)">D4</text>
<text x="293.8" y="262" font-size="9.2" letter-spacing="1.1" text-anchor="end" fill="#ffff00" transform="rotate(-90 293.8 262)">D3</text>
<text x="309.8" y="262" font-size="9.2" letter-spacing="1.1" text-anchor="end" fill="#ffff00" transform="rotate(-90 309.8 262)">D2</text>
<text x="325.8" y="262" font-size="9.2" letter-spacing="1.1" text-anchor="end" fill="#ffff00" transform="rotate(-90 325.8 262)">GND</text>
<text x="341.8" y="262" font-size="9.2" letter-spacing="1.1" text-anchor="end" fill="#ffff00" transform="rotate(-90 341.8 262)">RST</text>
<text x="357.8" y="262" font-size="9.2" letter-spacing="1.1" text-anchor="end" fill="#ffff00" transform="rotate(-90 357.8 262)">RXD</text>
<text x="373.8" y="262" font-size="9.2" letter-spacing="1.1" text-anchor="end" fill="#ffff00" transform="rotate(-90 373.8 262)">TXD</text>
<text x="149.8" y="336" font-size="9.2" letter-spacing="1.1" text-anchor="start" fill="#ffff00" transform="rotate(-90 149.8 336)">SCLK</text>
<text x="165.8" y="336" font-size="9.2" letter-spacing="1.1" text-anchor="start" fill="#ffff00" transform="rotate(-90 165.8 336)">3V3</text>
<text x="181.8" y="336" font-size="9.2" letter-spacing="1.1" text-anchor="start" fill="#ffff00" transform="rotate(-90 181.8 336)">Vref</text>
<text x="197.8" y="336" font-size="9.2" letter-spacing="1.1" text-anchor="start" fill="#ffff00" transform="rotate(-90 197.8 336)">A0</text>
<text x="213.8" y="336" font-size="9.2" letter-spacing="1.1" text-anchor="start" fill="#ffff00" transform="rotate(-90 213.8 336)">A1</text>
<text x="229.8" y="336" font-size="9.2" letter-spacing="1.1" text-anchor="start" fill="#ffff00" transform="rotate(-90 229.8 336)">A2</text>
<text x="245.8" y="336" font-size="9.2" letter-spacing="1.1" text-anchor="start" fill="#ffff00" transform="rotate(-90 245.8 336)">A3</text>
<text x="261.8" y="336" font-size="9.2" letter-spacing="1.1" text-anchor="start" fill="#ffff00" transform="rotate(-90 261.8 336)">A4</text>
<text x="277.8" y="336" font-size="9.2" letter-spacing="1.1" text-anchor="start" fill="#ffff00" transform="rotate(-90 277.8 336)">A5</text>
<text x="293.8" y="336" font-size="9.2" letter-spacing="1.1" text-anchor="start" fill="#ffff00" transform="rotate(-90 293.8 336)">A6</text>
<text x="309.8" y="336" font-size="9.2" letter-spacing="1.1" text-anchor="start" fill="#ffff00" transform="rotate(-90 309.8 336)">A7</text>
<text x="325.8" y="336" font-size="9.2" letter-spacing="1.1" text-anchor="start" fill="#ffff00" transform="rotate(-90 325.8 336)">5V</text>
<text x="341.8" y="336" font-size="9.2" letter-spacing="1.1" text-anchor="start" fill="#ffff00" transform="rotate(-90 341.8 336)">RST</text>
<text x="357.8" y="336" font-size="9.2" letter-spacing="1.1" text-anchor="start" fill="#ffff00" transform="rotate(-90 357.8 336)">GND</text>
<text x="373.8" y="336" font-size="9.2" letter-spacing="1.1" text-anchor="start" fill="#ffff00" transform="rotate(-90 373.8 336)">Raw</text>
<text x="389.8" y="352.5" font-size="9.2" letter-spacing="1.9" text-anchor="start" fill="#ffff00" transform="rotate(-90 389.8 352.5)">no pin</text>
<text x="194.5" y="322" font-size="9" letter-spacing="1.8" textLength="46.5" lengthAdjust="spacingAndGlyphs" text-anchor="start" fill="#ffff00">no pin</text>
<text x="316" y="296" font-size="10" letter-spacing="1.4" textLength="99.5" lengthAdjust="spacingAndGlyphs" text-anchor="start" fill="#ffff00" transform="rotate(180 316 296)">Arduino Nano</text>
<text x="178.4" y="391.5" font-size="9.7" letter-spacing="1.0" textLength="20" lengthAdjust="spacingAndGlyphs" text-anchor="start" fill="#ffff00" transform="rotate(90 178.4 391.5)">GND</text>
<text x="195.4" y="391.5" font-size="9.7" letter-spacing="1.0" textLength="20" lengthAdjust="spacingAndGlyphs" text-anchor="start" fill="#ffff00" transform="rotate(90 195.4 391.5)">VCC</text>
<text x="211.4" y="391.5" font-size="9.7" letter-spacing="1.0" textLength="20" lengthAdjust="spacingAndGlyphs" text-anchor="start" fill="#ffff00" transform="rotate(90 211.4 391.5)">SCK</text>
<text x="227.4" y="391.5" font-size="9.7" letter-spacing="1.0" textLength="20" lengthAdjust="spacingAndGlyphs" text-anchor="start" fill="#ffff00" transform="rotate(90 227.4 391.5)">SDA</text>
<text x="105.3" y="399.7" font-size="9.6" letter-spacing="1.2" textLength="21" lengthAdjust="spacingAndGlyphs" text-anchor="start" fill="#ffff00">Top</text>
<text x="189.5" y="448.2" font-size="10" letter-spacing="1.2" textLength="14.5" lengthAdjust="spacingAndGlyphs" text-anchor="start" fill="#ffff00">R1</text>
<text x="181.4" y="481" font-size="10" letter-spacing="1.2" textLength="15.5" lengthAdjust="spacingAndGlyphs" text-anchor="start" fill="#ffff00">R2</text>
<text x="353.4" y="487.5" font-size="10.3" letter-spacing="1.2" textLength="48" lengthAdjust="spacingAndGlyphs" text-anchor="start" fill="#ffff00" transform="rotate(-90 353.4 487.5)">Rotary</text>
<text x="362.2" y="487.5" font-size="10.3" letter-spacing="1.2" textLength="55" lengthAdjust="spacingAndGlyphs" text-anchor="start" fill="#ffff00" transform="rotate(-90 362.2 487.5)">encoder</text>
</svg></body></html>
